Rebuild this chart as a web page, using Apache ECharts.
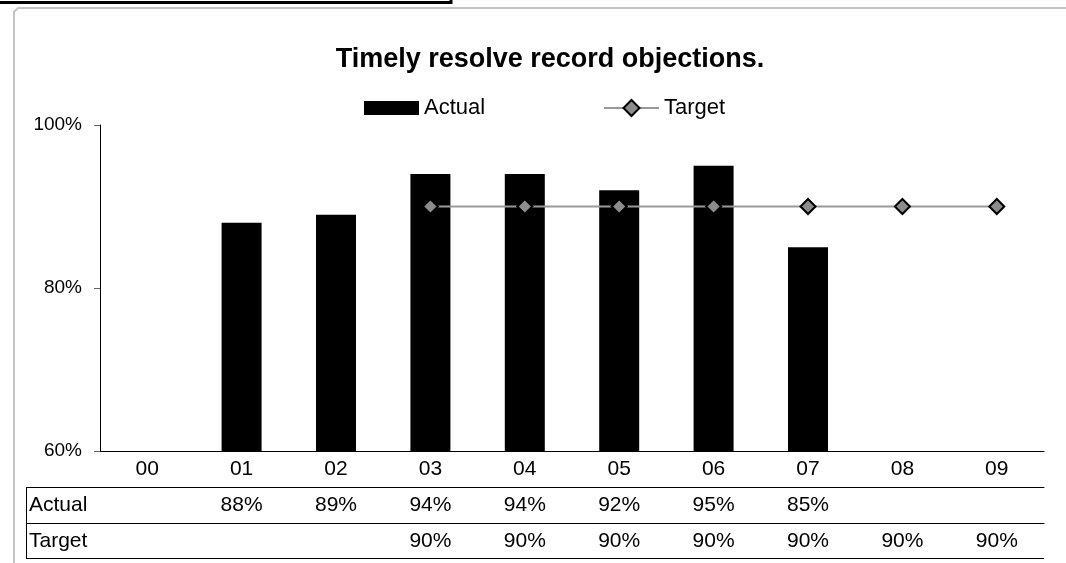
<!DOCTYPE html>
<html>
<head>
<meta charset="utf-8">
<script src="https://cdn.jsdelivr.net/npm/echarts@6/dist/echarts.min.js"></script>
<style>
html, body { margin: 0; padding: 0; background: #fff; }
#chart { width: 1066px; height: 563px; }
</style>
</head>
<body>
<div id="chart"></div>
<script>
var categories = ['00', '01', '02', '03', '04', '05', '06', '07', '08', '09'];
var actual = [null, 88, 89, 94, 94, 92, 95, 85, null, null];
var target = [null, null, null, 90, 90, 90, 90, 90, 90, 90];
var rowNames = ['Actual', 'Target'];

var font = 'Arial, "Liberation Sans", sans-serif';

function pct(arr) {
	return function (v, i) {
		return arr[i] == null ? '' : arr[i] + '%';
	};
}

var chart = echarts.init(document.getElementById('chart'));
var option = {
	animation: false,
	title: {
		text: 'Timely resolve record objections.',
		left: 545,
		top: 41,
		textAlign: 'center',
		textStyle: { fontFamily: font, fontSize: 27, fontWeight: 'bold', color: '#000' }
	},
	legend: [{
		left: 359,
		top: 92,
		itemWidth: 55,
		itemHeight: 14,
		textStyle: { fontFamily: font, fontSize: 22, color: '#000' },
		data: [{ name: 'Actual', icon: 'rect' }]
	}, {
		left: 598,
		top: 92,
		itemWidth: 55,
		itemHeight: 20,
		lineStyle: { width: 2, color: '#999' },
		textStyle: { fontFamily: font, fontSize: 22, color: '#000' },
		data: [{ name: 'Target' }]
	}],
	grid: { left: 100, right: 22, top: 125, bottom: 112 },
	xAxis: [{
		type: 'category',
		data: categories,
		axisLine: { lineStyle: { color: '#000', width: 1 } },
		axisTick: { length: 36, interval: 0, lineStyle: { color: '#000' } },
		axisLabel: { margin: 8, interval: 0, fontFamily: font, fontSize: 21, color: '#000' }
	}, {
		type: 'category',
		data: categories,
		position: 'bottom',
		offset: 36,
		axisLine: { lineStyle: { color: '#000', width: 1 } },
		axisTick: { length: 36, interval: 0, lineStyle: { color: '#000' } },
		axisLabel: { margin: 8, interval: 0, fontFamily: font, fontSize: 21, color: '#000', formatter: pct(actual) }
	}, {
		type: 'category',
		data: categories,
		position: 'bottom',
		offset: 72,
		axisLine: { lineStyle: { color: '#000', width: 1 } },
		axisTick: { length: 35, interval: 0, lineStyle: { color: '#000' } },
		axisLabel: { margin: 8, interval: 0, fontFamily: font, fontSize: 21, color: '#000', formatter: pct(target) }
	}],
	yAxis: {
		type: 'value',
		min: 60,
		max: 100,
		interval: 20,
		axisLine: { show: true, lineStyle: { color: '#000' } },
		axisTick: { show: true, length: 6, lineStyle: { color: '#666' } },
		splitLine: { show: false },
		axisLabel: { margin: 18, fontFamily: font, fontSize: 19, color: '#000', formatter: '{value}%' }
	},
	series: [{
		name: 'Actual',
		type: 'bar',
		data: actual,
		barWidth: 40,
		itemStyle: { color: '#000' }
	}, {
		name: 'Target',
		type: 'line',
		data: target,
		symbol: 'diamond',
		symbolSize: 15,
		lineStyle: { color: '#999', width: 2 },
		itemStyle: { color: '#8c8c8c', borderColor: '#000', borderWidth: 2 }
	}],
	graphic: [
		{ type: 'polyline', shape: { points: [[0, 2.5], [451, 2.5], [451, 0]] }, style: { stroke: '#000', lineWidth: 3, fill: null } },
		{ type: 'polyline', shape: { points: [[14, 600], [14, 12], [18, 8], [1070, 8]] }, style: { stroke: '#c4c4c4', lineWidth: 2, fill: null } },
		{ type: 'line', shape: { x1: 26, y1: 487.5, x2: 100, y2: 487.5 }, style: { stroke: '#000', lineWidth: 1 } },
		{ type: 'line', shape: { x1: 26, y1: 523.5, x2: 100, y2: 523.5 }, style: { stroke: '#000', lineWidth: 1 } },
		{ type: 'line', shape: { x1: 26, y1: 558.5, x2: 1044, y2: 558.5 }, style: { stroke: '#000', lineWidth: 1 } },
		{ type: 'line', shape: { x1: 26.5, y1: 487, x2: 26.5, y2: 559 }, style: { stroke: '#000', lineWidth: 1 } },
		{ type: 'text', left: 29, top: 495, style: { text: rowNames[0], font: '21px ' + font, fill: '#000' } },
		{ type: 'text', left: 29, top: 531, style: { text: rowNames[1], font: '21px ' + font, fill: '#000' } }
	]
};
chart.setOption(option);
</script>
</body>
</html>
